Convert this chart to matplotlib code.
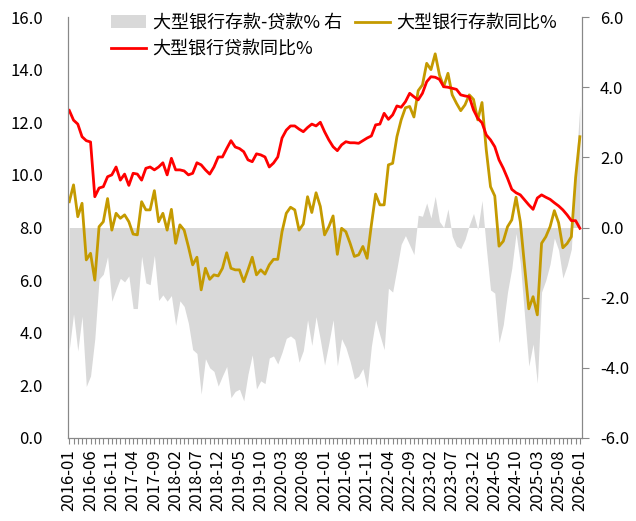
import numpy as np
import pandas as pd
import matplotlib
matplotlib.use('Agg')
import matplotlib.pyplot as plt
from matplotlib.ticker import FixedLocator, FormatStrFormatter

plt.rcParams['font.family'] = ['Noto Sans CJK SC', 'DejaVu Sans']
plt.rcParams['axes.unicode_minus'] = False

# 月度数据 2016-01 ~ 2026-01
months = pd.period_range('2016-01', '2026-01', freq='M').strftime('%Y-%m').tolist()

loan_yoy = [12.45, 12.08, 11.93, 11.45, 11.3, 11.25, 9.17, 9.5, 9.55, 9.93,
            10.0, 10.3, 9.8, 10.03, 9.6, 10.06, 10.03, 9.8, 10.25, 10.3,
            10.19, 10.3, 10.46, 10.0, 10.63, 10.19, 10.19, 10.15, 10.0, 10.06,
            10.46, 10.38, 10.19, 10.03, 10.3, 10.68, 10.68, 11.0, 11.3, 11.06,
            11.0, 10.88, 10.57, 10.5, 10.8, 10.76, 10.68, 10.3, 10.45, 10.68,
            11.4, 11.7, 11.86, 11.86, 11.74, 11.64, 11.8, 11.93, 11.86, 12.0,
            11.64, 11.33, 11.07, 10.92, 11.14, 11.26, 11.22, 11.22, 11.2, 11.3,
            11.4, 11.48, 11.9, 11.93, 12.34, 12.11, 12.28, 12.62, 12.57, 12.78,
            13.1, 12.97, 12.85, 13.1, 13.54, 13.73, 13.71, 13.63, 13.35, 13.33,
            13.29, 13.25, 13.04, 13.0, 12.97, 12.47, 12.15, 11.98, 11.52, 11.33,
            11.07, 10.57, 10.25, 9.87, 9.45, 9.32, 9.24, 9.05, 8.86, 8.69,
            9.12, 9.24, 9.15, 9.07, 8.94, 8.82, 8.67, 8.48, 8.26, 8.26,
            7.97]

deposit_yoy = [8.98, 9.62, 8.41, 8.92, 6.77, 7.02, 6.0, 8.03, 8.22, 9.1,
               7.9, 8.54, 8.35, 8.48, 8.22, 7.75, 7.72, 8.98, 8.67, 8.67,
               9.4, 8.22, 8.54, 7.9, 8.69, 7.4, 8.1, 7.9, 7.27, 6.58,
               6.87, 5.63, 6.45, 6.03, 6.2, 6.16, 6.45, 7.04, 6.45, 6.39,
               6.39, 5.94, 6.39, 6.87, 6.2, 6.39, 6.23, 6.58, 6.79, 6.79,
               7.84, 8.54, 8.77, 8.67, 7.9, 8.13, 9.17, 8.57, 9.32, 8.8,
               7.72, 8.03, 8.44, 6.98, 7.97, 7.84, 7.4, 6.9, 6.96, 7.28,
               6.83, 8.1, 9.27, 8.86, 8.86, 10.38, 10.44, 11.45, 12.09, 12.55,
               12.6, 12.2, 13.2, 13.42, 14.24, 14.0, 14.6, 13.8, 13.35, 13.86,
               13.04, 12.72, 12.44, 12.66, 13.04, 12.87, 12.09, 12.75, 10.95, 9.55,
               9.2, 7.29, 7.48, 8.03, 8.29, 9.15, 8.22, 6.54, 4.91, 5.37,
               4.68, 7.4, 7.65, 8.03, 8.64, 8.18, 7.23, 7.39, 7.65, 9.9,
               11.45]

# 存款-贷款（右轴）
spread = [-3.47, -2.46, -3.52, -2.53, -4.53, -4.23, -3.17, -1.47, -1.33, -0.83,
          -2.1, -1.76, -1.45, -1.55, -1.38, -2.31, -2.31, -0.82, -1.58, -1.63,
          -0.79, -2.08, -1.92, -2.1, -1.94, -2.79, -2.09, -2.25, -2.73, -3.48,
          -3.59, -4.75, -3.74, -4.0, -4.1, -4.52, -4.23, -3.96, -4.85, -4.67,
          -4.61, -4.94, -4.18, -3.63, -4.6, -4.37, -4.45, -3.72, -3.66, -3.89,
          -3.56, -3.16, -3.09, -3.19, -3.84, -3.51, -2.63, -3.36, -2.54, -3.2,
          -3.92, -3.3, -2.63, -3.94, -3.17, -3.42, -3.82, -4.32, -4.24, -4.02,
          -4.57, -3.38, -2.63, -3.07, -3.48, -1.73, -1.84, -1.17, -0.48, -0.23,
          -0.5, -0.77, 0.35, 0.32, 0.7, 0.27, 0.89, 0.17, 0.0, 0.53,
          -0.25, -0.53, -0.6, -0.34, 0.07, 0.4, -0.06, 0.77, -0.57, -1.78,
          -1.87, -3.28, -2.77, -1.84, -1.16, -0.17, -1.02, -2.51, -3.95, -3.32,
          -4.44, -1.84, -1.5, -1.04, -0.3, -0.64, -1.44, -1.09, -0.61, 1.64,
          3.48]

x = np.arange(len(months))

fig = plt.figure(figsize=(6.36, 5.21), dpi=100)
ax = fig.add_axes([68/636, 1-438/521, (582-68)/636, (438-17)/521])
ax2 = ax.twinx()

area = ax2.fill_between(x, 0, spread, color='#d9d9d9', lw=0, label='大型银行存款-贷款% 右')
l_dep, = ax.plot(x, deposit_yoy, color='#c49a00', lw=2.0, label='大型银行存款同比%')
l_loan, = ax.plot(x, loan_yoy, color='#ff0000', lw=2.0, label='大型银行贷款同比%')

ax.set_zorder(ax2.get_zorder() + 1)
ax.patch.set_visible(False)

ax.set_xlim(-0.3, 120.5)
ax.set_ylim(0, 16)
ax2.set_ylim(-6, 6)
ax.set_yticks(np.arange(0, 16.1, 2))
ax2.set_yticks(np.arange(-6, 6.1, 2))
ax.yaxis.set_major_formatter(FormatStrFormatter('%.1f'))
ax2.yaxis.set_major_formatter(FormatStrFormatter('%.1f'))

ax.xaxis.set_major_locator(FixedLocator(x[::5]))
ax.xaxis.set_minor_locator(FixedLocator(x))
ax.set_xticklabels(months[::5], rotation=90)

for a in (ax, ax2):
    a.spines['top'].set_visible(False)
    for s in ('left', 'right', 'bottom'):
        a.spines[s].set_color('#888888')
ax.tick_params(axis='y', length=0, pad=18, labelsize=12)
ax2.tick_params(axis='y', length=5, width=0.8, color='#888888', pad=8, labelsize=12)
ax.tick_params(axis='x', which='both', length=4, width=0.8, color='#888888', pad=4, labelsize=12)

ax.legend(handles=[area, l_loan, l_dep], ncol=2, frameon=False,
          loc='upper left', bbox_to_anchor=(111/636, 1-14/521), bbox_transform=fig.transFigure,
          fontsize=13, handlelength=1.95, handletextpad=0.36, columnspacing=0.72,
          labelspacing=0.45, borderpad=0, borderaxespad=0)

fig.savefig('out.png', dpi=100)
